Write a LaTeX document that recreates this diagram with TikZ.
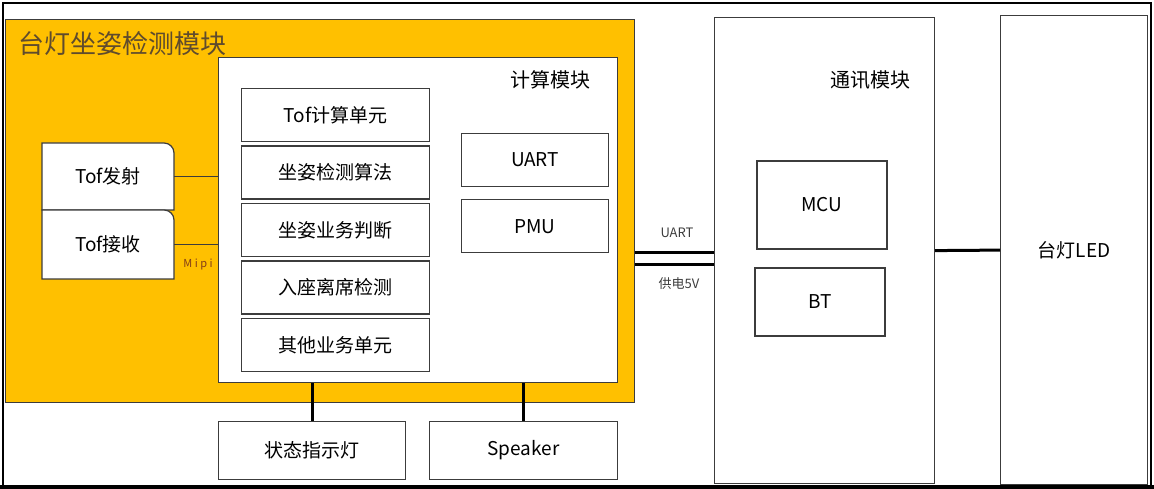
\documentclass[tikz,border=0pt]{standalone}
\usepackage{fontspec}
\setmainfont{Noto Sans CJK SC}
\usepackage{tikz}
\usetikzlibrary{positioning}

\definecolor{gold}{RGB}{255,192,0}
\definecolor{edge}{RGB}{60,60,60}
\definecolor{titlebrown}{RGB}{95,75,45}
\definecolor{mipired}{RGB}{130,60,25}

\begin{document}
\begin{tikzpicture}[
x=1pt, y=1pt,
node distance=3.3pt,
box/.style={
draw=edge,
line width=1.2pt,
fill=white,
inner sep=0pt,
font=\fontsize{19}{22}\selectfont
},
unit/.style={
box,
minimum width=188pt,
minimum height=53pt
},
sensor/.style={
inner sep=0pt,
minimum width=132pt,
minimum height=67pt,
font=\fontsize{19}{22}\selectfont
},
outline/.style={
draw=edge,
line width=1.2pt,
fill=white
},
link/.style={
line width=3pt
},
tag/.style={
font=\fontsize{13}{15}\selectfont,
text=edge
},
heading/.style={
font=\fontsize{20}{24}\selectfont
}
]

\useasboundingbox (0,0) rectangle (1154,489);
\draw[line width=2pt] (3,3) rectangle (1151,486);
\draw[line width=4pt] (0,2) -- (1154,2);

% detection module
\node[draw=edge, line width=1pt, fill=gold, inner sep=0pt,
minimum width=629pt, minimum height=383pt,
anchor=north west] (detect) at (5,470) {};
\node[anchor=west, text=titlebrown,
font=\fontsize{26}{30}\selectfont] (title) at (15,445)
{台灯坐姿检测模块};

% compute module
\node[box, minimum width=399pt, minimum height=325pt,
anchor=north west] (compute) at (218,432) {};
\node[heading, anchor=north east] (computetitle)
at ([xshift=-24pt, yshift=-10pt]compute.north east) {计算模块};

\node[unit, anchor=north west] (tofcalc) at (241,401) {Tof计算单元};
\node[unit, below=of tofcalc] (posture) {坐姿检测算法};
\node[unit, below=of posture] (judge) {坐姿业务判断};
\node[unit, below=of judge] (seat) {入座离席检测};
\node[unit, below=of seat] (other) {其他业务单元};

\node[box, minimum width=147pt, minimum height=53pt,
anchor=north west] (uart) at (461,356) {UART};
\node[box, minimum width=147pt, minimum height=53pt,
below=12pt of uart] (pmu) {PMU};

% tof sensors
\filldraw[outline] (42,279) -- (42,346) -- (164,346)
arc[start angle=90, end angle=0, radius=10] -- (174,279) -- cycle;
\node[sensor] (tx) at (108,312.5) {Tof发射};
\filldraw[outline] (42,210) -- (42,279) -- (164,279)
arc[start angle=90, end angle=0, radius=10] -- (174,210) -- cycle;
\node[sensor] (rx) at (108,244.5) {Tof接收};

\draw[edge, line width=1.5pt] (tx.east) -- (tx.east -| compute.west);
\draw[edge, line width=1.5pt] (rx.east) -- (rx.east -| compute.west);
\node[font=\fontsize{11}{13}\selectfont, text=mipired] (mipi)
at (198,224) {M i p i};

% outputs
\node[box, minimum width=187pt, minimum height=58pt,
anchor=north west] (lamp) at (218,68) {状态指示灯};
\node[box, minimum width=188pt, minimum height=58pt,
anchor=north west] (speaker) at (429,68) {Speaker};

\draw[link] (lamp.north) -- (lamp.north |- compute.south);
\draw[link] (speaker.north) -- (speaker.north |- compute.south);

% communication module
\node[box, minimum width=220pt, minimum height=466pt,
anchor=north west] (comm) at (714,472) {};
\node[heading] (commtitle) at (870,409) {通讯模块};
\node[box, minimum width=130pt, minimum height=88pt] (mcu)
at (822,284) {MCU};
\node[box, minimum width=130pt, minimum height=68pt] (bt)
at (820,187) {BT};

\draw[link] ([yshift=-41.5pt]detect.east)
-- ([yshift=-41.5pt]detect.east -| comm.west);
\draw[link] ([yshift=-53.5pt]detect.east)
-- ([yshift=-53.5pt]detect.east -| comm.west);
\node[tag] (uartlabel) at (677,256) {UART};
\node[tag] (powerlabel) at (679,205) {供电5V};

% lamp
\node[box, minimum width=147pt, minimum height=469pt,
anchor=north west] (led) at (1000,474) {台灯LED};

\draw[link] (comm.east) -- (led.west);

\end{tikzpicture}
\end{document}
